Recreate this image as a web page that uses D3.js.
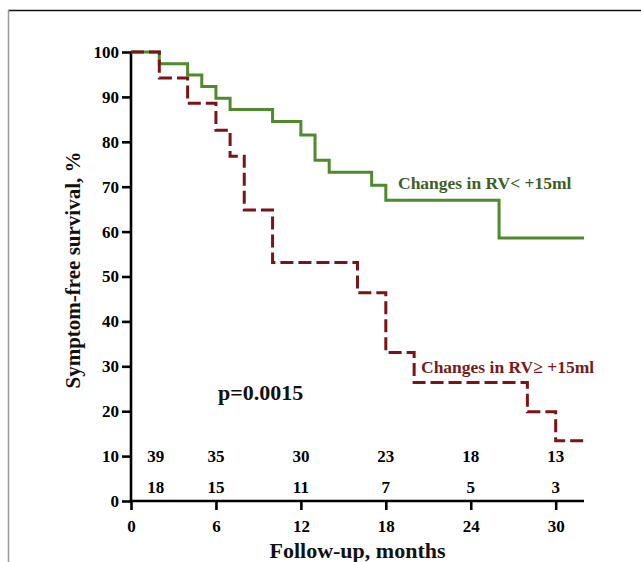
<!DOCTYPE html>
<html><head><meta charset="utf-8">
<script src="https://cdn.jsdelivr.net/npm/d3@7"></script>
<style>
html,body{margin:0;padding:0;background:#fff;}
svg text{font-family:"Liberation Serif","Times New Roman",serif;font-weight:bold;}
</style></head>
<body>
<script>
// Data
const groupLow = "Changes in RV< +15ml";
const groupHigh = "Changes in RV\u2265 +15ml";
const lowTimes = [0, 2, 4, 5, 6, 7, 10, 12, 13, 14, 17, 18, 26, 32];
const lowSurv  = [100, 97.4, 94.9, 92.3, 89.7, 87.2, 84.5, 81.5, 75.9, 73.2, 70.3, 67.0, 58.6, 58.6];
const highTimes = [0, 2, 4, 6, 7, 8, 10, 16, 18, 20, 28, 30, 32];
const highSurv  = [100, 94.2, 88.6, 82.6, 76.8, 64.8, 53.1, 46.4, 33.1, 26.4, 19.9, 13.4, 13.4];
const riskTimes = [1.75, 6, 12, 18, 24, 30];
const riskLow  = [39, 35, 30, 23, 18, 13];
const riskHigh = [18, 15, 11, 7, 5, 3];
const xTicks = [0, 6, 12, 18, 24, 30];
const yTicks = [0, 10, 20, 30, 40, 50, 60, 70, 80, 90, 100];
const pText = "p=0.0015";
const xTitle = "Follow-up, months";
const yTitle = "Symptom-free survival, %";

const W = 641, H = 562;
const svg = d3.select("body").append("svg").attr("width", W).attr("height", H);

// frame
svg.append("line").attr("x1", 8).attr("x2", W).attr("y1", 10.5).attr("y2", 10.5)
  .attr("stroke", "#111").attr("stroke-width", 1.5);
svg.append("line").attr("x1", 8.5).attr("x2", 8.5).attr("y1", 10).attr("y2", H)
  .attr("stroke", "#999").attr("stroke-width", 1.5);

const x = d3.scaleLinear().domain([0, 32]).range([131, 584]);
const y = d3.scaleLinear().domain([0, 100]).range([501, 52]);

// axes
const xAxis = svg.append("g").attr("transform", `translate(0,${y(0)})`)
  .call(d3.axisBottom(x).tickValues(xTicks).tickSize(9).tickPadding(10).tickSizeOuter(0));
const yAxis = svg.append("g").attr("transform", `translate(${x(0)},0)`)
  .call(d3.axisLeft(y).tickValues(yTicks).tickSize(9).tickPadding(3).tickSizeOuter(0));
[xAxis, yAxis].forEach(g => {
  g.select(".domain").attr("stroke", "#000").attr("stroke-width", 2.6);
  g.selectAll(".tick line").attr("stroke", "#000").attr("stroke-width", 2.6);
  g.selectAll(".tick text").attr("fill", "#000").style("font-size", "17px")
    .style("font-family", '"Liberation Serif","Times New Roman",serif').style("font-weight", "bold");
});
xAxis.select(".domain").attr("d", `M${x(0)-1},0H${x(32)}`);
yAxis.select(".domain").attr("d", `M0,${y(100)}V${y(0)+1}`);

// curves
const line = d3.line().x(d => x(d[0])).y(d => y(d[1])).curve(d3.curveStepAfter);
svg.append("path").datum(lowTimes.map((t, i) => [t, lowSurv[i]]))
  .attr("d", line).attr("fill", "none").attr("stroke", "#4f8a2c").attr("stroke-width", 3);
svg.append("path").datum(highTimes.map((t, i) => [t, highSurv[i]]))
  .attr("d", line).attr("fill", "none").attr("stroke", "#7a1416").attr("stroke-width", 3)
  .attr("stroke-dasharray", "13,5");

// numbers at risk
const risk = svg.append("g").style("font-size", "17px").attr("text-anchor", "middle");
risk.selectAll(".r1").data(riskLow).enter().append("text")
  .attr("x", (d, i) => x(riskTimes[i])).attr("y", y(10)).attr("dy", "0.35em").text(d => d);
risk.selectAll(".r2").data(riskHigh).enter().append("text")
  .attr("x", (d, i) => x(riskTimes[i])).attr("y", y(3.2)).attr("dy", "0.35em").text(d => d);

// annotations
svg.append("text").attr("x", 398).attr("y", 183).attr("dy", "0.35em")
  .style("font-size", "17.5px").attr("fill", "#3f5f25").text(groupLow);
svg.append("text").attr("x", 421).attr("y", 367).attr("dy", "0.35em")
  .style("font-size", "17.5px").attr("fill", "#781a1c").text(groupHigh);
svg.append("text").attr("x", 218).attr("y", 392).attr("dy", "0.35em")
  .style("font-size", "22px").attr("fill", "#111").text(pText);

// titles
svg.append("text").attr("x", (x(0) + x(32)) / 2).attr("y", 558).attr("text-anchor", "middle")
  .style("font-size", "22px").attr("fill", "#111").text(xTitle);
svg.append("text").attr("transform", `translate(80,270) rotate(-90)`).attr("text-anchor", "middle")
  .style("font-size", "21px").attr("fill", "#111").text(yTitle);
</script>
</body></html>
